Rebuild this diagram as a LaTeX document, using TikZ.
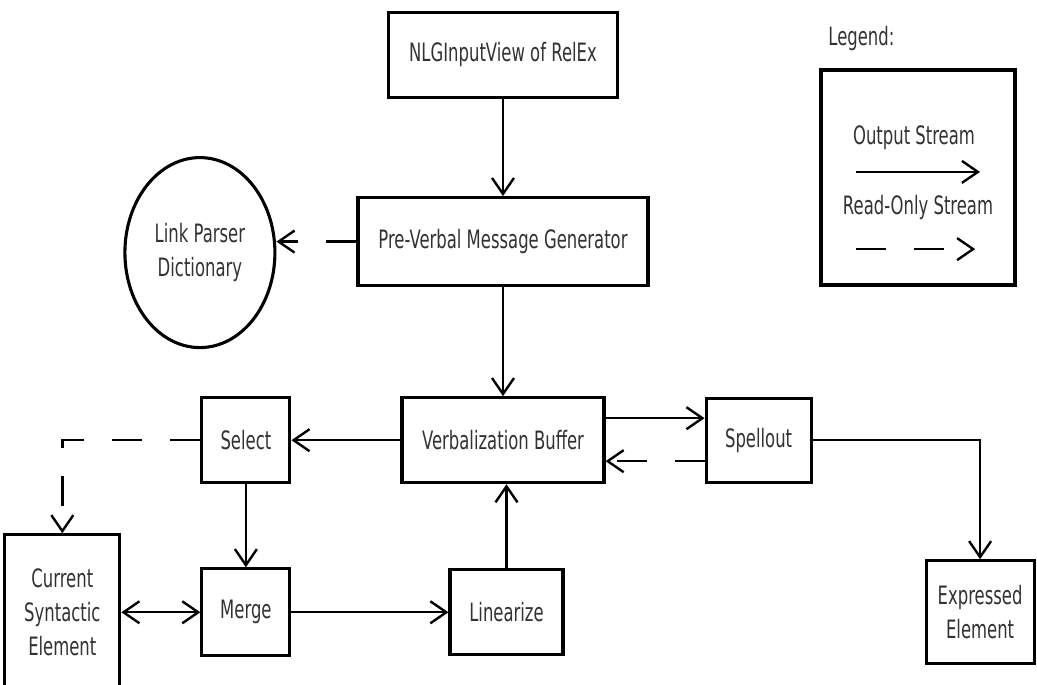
\documentclass[tikz,border=0pt]{standalone}
\usepackage{fontspec}
\setmainfont{DejaVu Sans}[FakeStretch=0.65]
\usetikzlibrary{%
	calc,%
	arrows.meta,%
	shapes.geometric,%
	positioning,%
}
\tikzset{
	>={Straight Barb[length=4mm,width=5.5mm]},%
	nodes={align=center},%
	block/.style={%
			draw,%
			rectangle,%
			line width=2.2pt,%
			minimum width=2.2cm,%
			minimum height=2.125cm,%
			fill=white},%
	store/.style={%
			draw,%
			ellipse,%
			line width=2.2pt,%
			minimum width=3.75cm,%
			minimum height=4.75cm},%
	flow/.style={%
			->,%
			line width=1.7pt},%
	readonly/.style={%
			->,%
			line width=1.7pt,%
			dash pattern=on 7.5mm off 7mm},%
}
\definecolor{ctext}{RGB}{50, 50, 50}

\begin{document}
\begin{tikzpicture}[nodes={font={\fontsize{18}{24}\selectfont}, text=ctext}]%
	\useasboundingbox (0,0) rectangle (25.925,-17.125);

	\node[block, minimum width=5.725cm] (nlg) at (12.575,-1.375) {NLGInputView of RelEx};

	\node[block, minimum width=7.25cm, minimum height=2.2cm] (pvm) [below=2.425cm of nlg] {Pre-Verbal Message Generator};

	\node[store, yshift=-0.275cm] (dict) [left=2cm of pvm] {Link Parser\\Dictionary};

	\node[block, minimum width=5.05cm] (vb) [below=2.725cm of pvm] {Verbalization Buffer};

	\node[block] (select) [left=2.725cm of vb] {Select};

	\node[block, minimum width=2.625cm, minimum height=2.1cm] (spell) [right=2.475cm of vb] {Spellout};

	\node[block, minimum height=2.175cm] (merge) [below=2.075cm of select] {Merge};

	\node[block, minimum width=2.825cm] (lin) [right=3.925cm of merge] {Linearize};

	\node[block, minimum width=2.875cm, minimum height=3.875cm] (cse) [left=1.975cm of merge] {Current\\Syntactic\\Element};

	\node[block, minimum width=2.7cm, minimum height=2.575cm] (expr) [right=9cm of lin] {Expressed\\Element};

	\node[block, minimum width=4.85cm, minimum height=5.375cm] (legend) at (22.95,-4.4375) {};
	\node[anchor=base west] (legendtitle) at ($(legend.north west)+(0.1,0.575)$) {Legend:};
	\node (outlabel) at ($(legend.center)+(-0.1,0.99)$) {Output Stream};
	\node (rolabel) at ($(legend.center)+(0,-0.76)$) {Read-Only Stream};
	\coordinate (outstart) at ($(legend.center)+(-1.55,0.14)$);
	\coordinate (outend) at ($(legend.center)+(1.55,0.14)$);
	\coordinate (rostart) at ($(legend.center)+(-1.55,-1.79)$);
	\coordinate (roend) at ($(legend.center)+(1.43,-1.79)$);

	\draw[flow] (nlg) -- (pvm);
	\draw[flow] (pvm) -- (vb);
	\draw[readonly] (pvm.west) -- (pvm.west -| dict.east);
	\draw[flow] (vb) -- (select);
	\draw[flow] ($(vb.east)+(0,0.55)$) -- ($(spell.west)+(0,0.55)$);
	\draw[readonly] ($(spell.west)+(0,-0.525)$) -- ($(vb.east)+(0,-0.525)$);
	\draw[flow] (spell.east) -| (expr.north);
	\draw[readonly] (select.west) -| (cse.north);
	\draw[flow] (select) -- (merge);
	\draw[flow, <->] (cse) -- (merge);
	\draw[flow] (merge) -- (lin);
	\draw[flow] (lin) -- (lin |- vb.south);
	\draw[flow] (outstart) -- (outend);
	\draw[readonly] (rostart) -- (roend);
\end{tikzpicture}
\end{document}
